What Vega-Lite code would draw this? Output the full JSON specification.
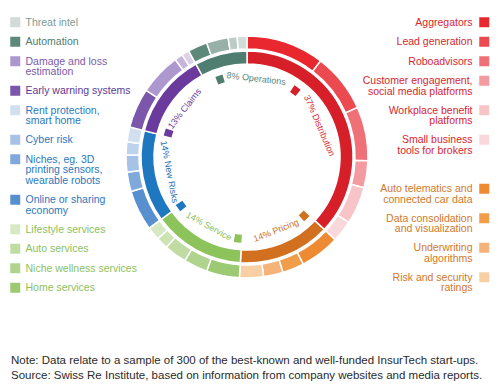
{
  "$schema": "https://vega.github.io/schema/vega-lite/v6.json",
  "width": 494,
  "height": 314,
  "autosize": {"type": "none"},
  "padding": {"left": 0, "top": 0, "right": 4, "bottom": 75},
  "background": "white",
  "config": {"view": {"stroke": null}, "font": "Liberation Sans", "style": {"guide-label": {"lineHeight": 10.5, "dy": -4.5}}},
  "title": {
    "text": ["Note: Data relate to a sample of 300 of the best-known and well-funded InsurTech start-ups.", "Source: Swiss Re Institute, based on information from company websites and media reports."],
    "orient": "bottom", "anchor": "start", "frame": "group", "offset": 41, "dx": 11,
    "font": "Liberation Sans", "fontSize": 11.5, "fontWeight": "normal", "color": "#2a2a2a", "lineHeight": 15
  },
  "datasets": {
    "cats": [
      {"cat": "Distribution", "value": 37},
      {"cat": "Pricing", "value": 14},
      {"cat": "Service", "value": 14},
      {"cat": "New Risks", "value": 14},
      {"cat": "Claims", "value": 13},
      {"cat": "Operations", "value": 8}
    ],
    "subs": [
      {"cat": "Distribution", "sub": "Aggregators", "value": 10.4},
      {"cat": "Distribution", "sub": "Lead generation", "value": 7.9},
      {"cat": "Distribution", "sub": "Roboadvisors", "value": 7.2},
      {"cat": "Distribution", "sub": "Customer engagement, social media platforms", "value": 3.6},
      {"cat": "Distribution", "sub": "Workplace benefit platforms", "value": 5.0},
      {"cat": "Distribution", "sub": "Small business tools for brokers", "value": 2.9},
      {"cat": "Pricing", "sub": "Auto telematics and connected car data", "value": 5.3},
      {"cat": "Pricing", "sub": "Data consolidation and visualization", "value": 2.9},
      {"cat": "Pricing", "sub": "Underwriting algorithms", "value": 2.6},
      {"cat": "Pricing", "sub": "Risk and security ratings", "value": 3.2},
      {"cat": "Service", "sub": "Home services", "value": 4.4},
      {"cat": "Service", "sub": "Niche wellness services", "value": 3.2},
      {"cat": "Service", "sub": "Auto services", "value": 3.0},
      {"cat": "Service", "sub": "Service 4", "value": 1.6},
      {"cat": "Service", "sub": "Lifestyle services", "value": 1.8},
      {"cat": "New Risks", "sub": "Online or sharing economy", "value": 5.4},
      {"cat": "New Risks", "sub": "Niches, eg. 3D printing sensors, wearable robots", "value": 2.6},
      {"cat": "New Risks", "sub": "Cyber risk", "value": 2.3},
      {"cat": "New Risks", "sub": "New risks 4", "value": 1.7},
      {"cat": "New Risks", "sub": "Rent protection, smart home", "value": 2.0},
      {"cat": "Claims", "sub": "Early warning systems", "value": 5.3},
      {"cat": "Claims", "sub": "Damage and loss estimation", "value": 5.6},
      {"cat": "Claims", "sub": "Claims 3", "value": 1.1},
      {"cat": "Claims", "sub": "Claims 4", "value": 1.0},
      {"cat": "Operations", "sub": "Automation", "value": 2.6},
      {"cat": "Operations", "sub": "Operations 2", "value": 2.9},
      {"cat": "Operations", "sub": "Operations 3", "value": 1.2},
      {"cat": "Operations", "sub": "Threat intel", "value": 1.3}
    ]
  },
  "layer": [
    {
      "data": {"name": "cats"},
      "transform": [
        {"window": [{"op": "row_number", "as": "i"}]},
        {"stack": "value", "groupby": [], "sort": [{"field": "i", "order": "ascending"}], "as": ["s0", "s1"]}
      ],
      "mark": {"type": "arc", "innerRadius": 93, "outerRadius": 106, "stroke": "white", "strokeWidth": 1.5},
      "encoding": {
        "theta": {"field": "s0", "type": "quantitative", "stack": null, "scale": {"domain": [0, 100]}},
        "theta2": {"field": "s1"},
        "color": {"field": "cat", "type": "nominal", "legend": null,
          "scale": {"domain": ["Distribution", "Pricing", "Service", "New Risks", "Claims", "Operations"],
                    "range": ["#d71f29", "#d1701f", "#8dc35b", "#1f77c0", "#6a3b9c", "#4f7d6f"]}}
      }
    },
    {
      "data": {"name": "subs"},
      "transform": [
        {"window": [{"op": "row_number", "as": "i"}]},
        {"stack": "value", "groupby": [], "sort": [{"field": "i", "order": "ascending"}], "as": ["s0", "s1"]},
        {"filter": "datum.cat == 'Distribution' || datum.cat == 'Pricing'"}
      ],
      "mark": {"type": "arc", "innerRadius": 108, "outerRadius": 121, "stroke": "white", "strokeWidth": 1.5},
      "encoding": {
        "theta": {"field": "s0", "type": "quantitative", "stack": null, "scale": {"domain": [0, 100]}},
        "theta2": {"field": "s1"},
        "color": {"field": "sub", "type": "nominal",
          "scale": {"domain": ["Aggregators", "Lead generation", "Roboadvisors", "Customer engagement, social media platforms", "Workplace benefit platforms", "Small business tools for brokers", " ", "Auto telematics and connected car data", "Data consolidation and visualization", "Underwriting algorithms", "Risk and security ratings"],
                    "range": ["#e8282e", "#eb4a50", "#ef7077", "#f39ba1", "#f7c4c8", "#f8d8db", "rgba(255,255,255,0)", "#ee8a32", "#f29d4a", "#f5b37b", "#f8cfa4"]},
          "legend": {
            "title": null, "orient": "none", "legendX": 479, "legendY": 17, "padding": 0,
            "values": ["Aggregators", "Lead generation", "Roboadvisors", "Customer engagement, social media platforms", "Workplace benefit platforms", "Small business tools for brokers", " ", "Auto telematics and connected car data", "Data consolidation and visualization", "Underwriting algorithms", "Risk and security ratings"],
            "symbolType": "square", "symbolSize": 100, "symbolStrokeWidth": 0, "symbolOpacity": 1,
            "labelFont": "Liberation Sans", "labelFontSize": 10.5, "labelAlign": "right", "labelOffset": -17, "labelLimit": 250, "labelBaseline": "top",
            "rowPadding": 7.5,
            "labelColor": {"expr": "indexof(['Auto telematics and connected car data', 'Data consolidation and visualization', 'Underwriting algorithms', 'Risk and security ratings'], datum.value) >= 0 ? '#d2782b' : '#d7262f'"},
            "labelExpr": "datum.label == 'Customer engagement, social media platforms' ? ['Customer engagement,', 'social media platforms'] : datum.label == 'Workplace benefit platforms' ? ['Workplace benefit', 'platforms'] : datum.label == 'Small business tools for brokers' ? ['Small business', 'tools for brokers'] : datum.label == 'Auto telematics and connected car data' ? ['Auto telematics and', 'connected car data'] : datum.label == 'Data consolidation and visualization' ? ['Data consolidation', 'and visualization'] : datum.label == 'Underwriting algorithms' ? ['Underwriting', 'algorithms'] : datum.label == 'Risk and security ratings' ? ['Risk and security', 'ratings'] : datum.label"
          }
        }
      }
    },
    {
      "data": {"name": "subs"},
      "transform": [
        {"window": [{"op": "row_number", "as": "i"}]},
        {"stack": "value", "groupby": [], "sort": [{"field": "i", "order": "ascending"}], "as": ["s0", "s1"]},
        {"filter": "datum.cat != 'Distribution' && datum.cat != 'Pricing'"}
      ],
      "mark": {"type": "arc", "innerRadius": 108, "outerRadius": 121, "stroke": "white", "strokeWidth": 1.5},
      "encoding": {
        "theta": {"field": "s0", "type": "quantitative", "stack": null, "scale": {"domain": [0, 100]}},
        "theta2": {"field": "s1"},
        "color": {"field": "sub", "type": "nominal",
          "scale": {"domain": ["Threat intel", "Operations 3", "Operations 2", "Automation", "Claims 4", "Claims 3", "Damage and loss estimation", "Early warning systems", "Rent protection, smart home", "New risks 4", "Cyber risk", "Niches, eg. 3D printing sensors, wearable robots", "Online or sharing economy", "Lifestyle services", "Service 4", "Auto services", "Niche wellness services", "Home services"],
                    "range": ["#d1dbd7", "#bccbc6", "#98b1a8", "#5d887a", "#dbd1ea", "#c6b6de", "#ad97cf", "#7b56aa", "#d2dfef", "#bdd2ec", "#a6c2e6", "#80a9db", "#5890cf", "#d6e9c4", "#cce3b4", "#c0dca3", "#b0d38e", "#9bca72"]},
          "legend": {
            "title": null, "orient": "none", "legendX": 10, "legendY": 17, "padding": 0,
            "values": ["Threat intel", "Automation", "Damage and loss estimation", "Early warning systems", "Rent protection, smart home", "Cyber risk", "Niches, eg. 3D printing sensors, wearable robots", "Online or sharing economy", "Lifestyle services", "Auto services", "Niche wellness services", "Home services"],
            "symbolType": "square", "symbolSize": 100, "symbolStrokeWidth": 0, "symbolOpacity": 1,
            "labelFont": "Liberation Sans", "labelFontSize": 10.5, "labelOffset": 5, "labelLimit": 250, "labelBaseline": "top",
            "rowPadding": 7.5,
            "labelColor": {"expr": "datum.value == 'Threat intel' ? '#7d9a91' : datum.value == 'Automation' ? '#4f7c6e' : datum.value == 'Damage and loss estimation' ? '#7a5aa9' : datum.value == 'Early warning systems' ? '#5e3a94' : indexof(['Rent protection, smart home', 'Cyber risk', 'Niches, eg. 3D printing sensors, wearable robots', 'Online or sharing economy'], datum.value) >= 0 ? '#2a78c0' : '#8cc15e'"},
            "labelExpr": "datum.label == 'Damage and loss estimation' ? ['Damage and loss', 'estimation'] : datum.label == 'Rent protection, smart home' ? ['Rent protection,', 'smart home'] : datum.label == 'Niches, eg. 3D printing sensors, wearable robots' ? ['Niches, eg. 3D', 'printing sensors,', 'wearable robots'] : datum.label == 'Online or sharing economy' ? ['Online or sharing', 'economy'] : datum.label"
          }
        }
      }
    },
    {
      "data": {"name": "cats"},
      "transform": [
        {"window": [{"op": "row_number", "as": "i"}]},
        {"stack": "value", "groupby": [], "sort": [{"field": "i", "order": "ascending"}], "as": ["s0", "s1"]},
        {"calculate": "datum.value + '% ' + datum.cat", "as": "lab"},
        {"calculate": "length(datum.lab) * 0.45", "as": "half"},
        {"calculate": "2 * datum.half <= datum.value ? (datum.s0 + datum.s1) / 2 : datum.s0 + datum.half + 4", "as": "tc"},
        {"calculate": "datum.tc - datum.half - 0.6", "as": "q1"},
        {"calculate": "datum.q1 - 1.4", "as": "q0"}
      ],
      "mark": {"type": "arc", "innerRadius": 78, "outerRadius": 86},
      "encoding": {
        "theta": {"field": "q0", "type": "quantitative", "stack": null, "scale": {"domain": [0, 100]}},
        "theta2": {"field": "q1"},
        "color": {"field": "cat", "type": "nominal", "legend": null,
          "scale": {"domain": ["Distribution", "Pricing", "Service", "New Risks", "Claims", "Operations"],
                    "range": ["#d71f29", "#d1701f", "#8dc35b", "#1f77c0", "#6a3b9c", "#4f7d6f"]}}
      }
    },
    {
      "data": {"name": "cats"},
      "transform": [
        {"window": [{"op": "row_number", "as": "i"}]},
        {"stack": "value", "groupby": [], "sort": [{"field": "i", "order": "ascending"}], "as": ["s0", "s1"]},
        {"calculate": "datum.value + '% ' + datum.cat", "as": "lab"},
        {"calculate": "length(datum.lab) * 0.45", "as": "half"},
        {"calculate": "2 * datum.half <= datum.value ? (datum.s0 + datum.s1) / 2 : datum.s0 + datum.half + 4", "as": "tc"},
        {"calculate": "(datum.tc % 100) * 3.6", "as": "deg"},
        {"calculate": "datum.deg <= 90 || datum.deg >= 270 ? datum.deg : datum.deg - 180", "as": "ang"}
      ],
      "mark": {"type": "text", "radius": 79, "font": "Liberation Sans", "fontSize": 9, "align": "center", "baseline": "middle"},
      "encoding": {
        "theta": {"field": "tc", "type": "quantitative", "stack": null, "scale": {"domain": [0, 100]}},
        "text": {"field": "lab", "type": "nominal"},
        "angle": {"field": "ang", "type": "quantitative", "scale": null},
        "color": {"field": "cat", "type": "nominal", "legend": null,
          "scale": {"domain": ["Distribution", "Pricing", "Service", "New Risks", "Claims", "Operations"],
                    "range": ["#d42a33", "#c8702d", "#8cc15e", "#2b6fb4", "#6b3c9e", "#5a8679"]}}
      }
    }
  ],
  "resolve": {"scale": {"color": "independent"}, "legend": {"color": "independent"}}
}
